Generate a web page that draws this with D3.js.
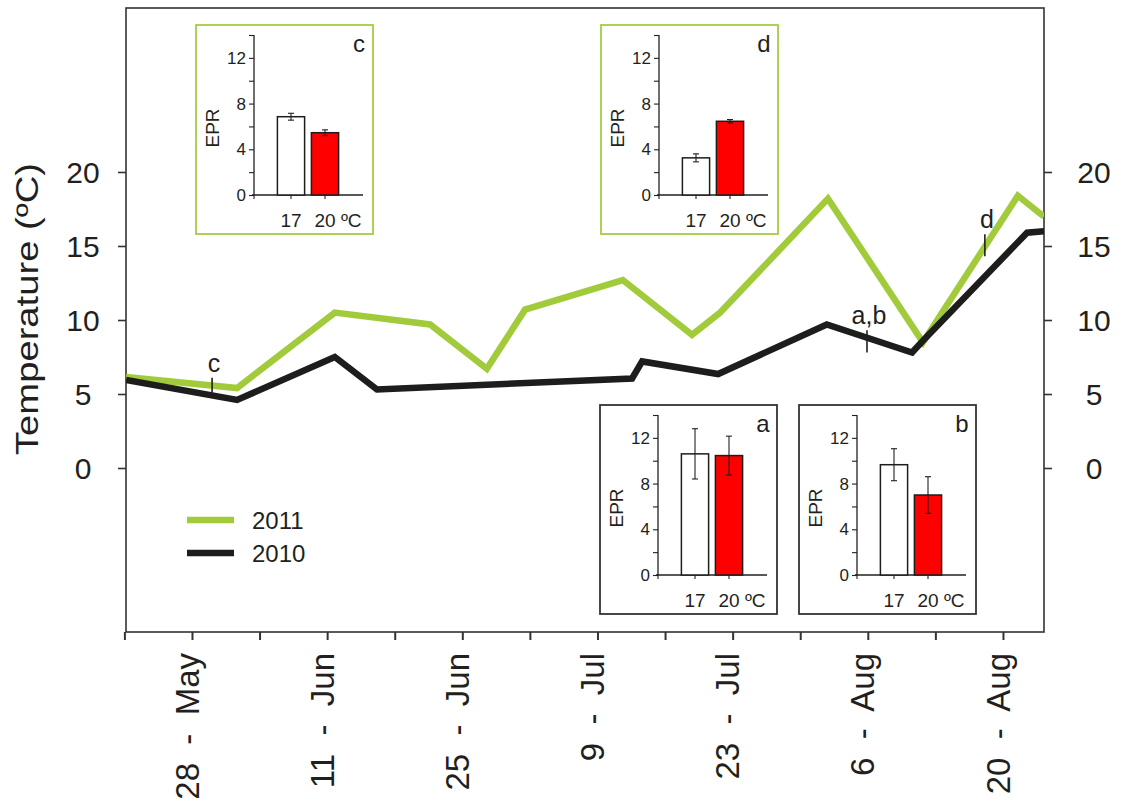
<!DOCTYPE html>
<html><head><meta charset="utf-8">
<script src="https://cdn.jsdelivr.net/npm/d3@7"></script>
<style>
body{margin:0;background:#fff}
text{font-family:"Liberation Sans",Arial,Helvetica,sans-serif;fill:#231f20}
</style>
</head><body>
<svg id="chart" width="1126" height="799"></svg>
<script>
// ---------- data ----------
const dates2011 = ["2011-05-21 04","2011-06-01 16","2011-06-11 19","2011-06-21 16","2011-06-27 13","2011-07-01 12","2011-07-11 15","2011-07-18 19","2011-07-21 17","2011-08-01 21","2011-08-11 17","2011-08-21 13","2011-08-23 20","2011-08-24 06"];
const temp2011  = [6.15, 5.4, 10.5, 9.7, 6.7, 10.7, 12.7, 9.0, 10.5, 18.2, 8.5, 18.4, 17.2, 17.0];
const dates2010 = ["2011-05-21 04","2011-06-01 16","2011-06-11 19","2011-06-16 04","2011-07-12 14","2011-07-13 15","2011-07-21 12","2011-08-01 18","2011-08-10 14","2011-08-11 17","2011-08-22 12","2011-08-24 06"];
const temp2010  = [5.95, 4.6, 7.5, 5.3, 6.05, 7.2, 6.35, 9.7, 7.8, 8.6, 15.9, 16.0];
const seriesNames = ["2011","2010"];
const seriesColors = ["#a1cb3a","#1d1d1b"];

const xTickDates  = ["2011-05-21 00","2011-05-28 00","2011-06-04 00","2011-06-11 00","2011-06-18 00","2011-06-25 00","2011-07-02 00","2011-07-09 00","2011-07-16 00","2011-07-23 00","2011-07-30 00","2011-08-06 00","2011-08-13 00","2011-08-20 00"];
const xTickLabels = ["","28  -  May","","11  -  Jun","","25  -  Jun","","9  -  Jul","","23  -  Jul","","6  -  Aug","","20  -  Aug"];
const yTicks = [0,5,10,15,20];

// sampling-date markers
const sampleLabels = ["c","a,b","d"];
const sampleDates  = ["2011-05-30 02","2011-08-05 22","2011-08-18 03"];
const sampleLow    = [5.0, 7.8, 14.3];
const sampleHigh   = [6.1, 9.3, 15.8];

// inset bar charts (EPR)
const insetNames   = ["c","d","a","b"];
const insetGroups  = ["17","20"];
const insetGroupLabels = ["17","20 ºC"];
const epr17     = [6.85, 3.25, 10.6, 9.65];
const epr17Err  = [0.3, 0.35, 2.2, 1.4];
const epr20     = [5.45, 6.45, 10.45, 7.0];
const epr20Err  = [0.25, 0.15, 1.7, 1.6];
const insetTicks = [0,2,4,6,8,10,12,14];
const insetLabelTicks = [0,4,8,12];

// ---------- layout ----------
const parse = d3.timeParse("%Y-%m-%d %H");
const svg = d3.select("#chart");
const L = 126, R = 1044, T = 8, B = 632;

const x = d3.scaleTime()
  .domain([parse("2011-05-21 04"), parse("2011-08-24 06")])
  .range([L, R]);
const y = d3.scaleLinear().domain([-11.08, 31.08]).range([B, T]);

// frame
svg.append("rect").attr("x",L).attr("y",T).attr("width",R-L).attr("height",B-T)
  .attr("fill","none").attr("stroke","#333").attr("stroke-width",1.6);

// left axis
const gL = svg.append("g").attr("transform",`translate(${L},0)`)
  .call(d3.axisLeft(y).tickValues(yTicks).tickSize(8).tickPadding(0).tickFormat(d3.format("d")));
gL.select(".domain").remove();
gL.selectAll(".tick line").attr("stroke","#333").attr("stroke-width",1.6);
gL.selectAll(".tick text").attr("x",-43).attr("text-anchor","middle")
  .attr("dy","0.36em").style("font-size","30px").attr("fill","#231f20");

// right axis
const gR = svg.append("g").attr("transform",`translate(${R},0)`)
  .call(d3.axisRight(y).tickValues(yTicks).tickSize(8).tickPadding(0).tickFormat(d3.format("d")));
gR.select(".domain").remove();
gR.selectAll(".tick line").attr("stroke","#333").attr("stroke-width",1.6);
gR.selectAll(".tick text").attr("x",50).attr("text-anchor","middle")
  .attr("dy","0.36em").style("font-size","30px").attr("fill","#231f20");

// bottom axis
const tickDates = xTickDates.map(parse);
const gB = svg.append("g").attr("transform",`translate(0,${B})`)
  .call(d3.axisBottom(x).tickValues(tickDates).tickSize(8).tickFormat(""));
gB.select(".domain").remove();
gB.selectAll(".tick line").attr("stroke","#333").attr("stroke-width",2);

svg.append("g").selectAll("text").data(tickDates).join("text")
  .attr("transform", d => `translate(${x(d)},653) rotate(-90)`)
  .attr("text-anchor","end").attr("dy","0.2em")
  .attr("xml:space","preserve").style("white-space","pre")
  .style("font-size","33px")
  .text((d,i) => xTickLabels[i]);

// y title
svg.append("text")
  .attr("transform","translate(27,309) rotate(-90)")
  .attr("text-anchor","middle").attr("dy","0.35em")
  .attr("textLength",292).attr("lengthAdjust","spacingAndGlyphs")
  .style("font-size","31px")
  .text("Temperature (ºC)");

// lines
const line = d3.line().x(d => x(d[0])).y(d => y(d[1])).curve(d3.curveLinear);
const s2011 = dates2011.map((d,i) => [parse(d), temp2011[i]]);
const s2010 = dates2010.map((d,i) => [parse(d), temp2010[i]]);
svg.append("defs").append("clipPath").attr("id","plotclip")
  .append("rect").attr("x",L).attr("y",T).attr("width",R-L).attr("height",B-T);
const gLines = svg.append("g").attr("clip-path","url(#plotclip)");
gLines.append("path").datum(s2011).attr("d",line).attr("fill","none")
  .attr("stroke",seriesColors[0]).attr("stroke-width",6.5).attr("stroke-linejoin","miter");
gLines.append("path").datum(s2010).attr("d",line).attr("fill","none")
  .attr("stroke",seriesColors[1]).attr("stroke-width",6.5).attr("stroke-linejoin","miter");

// sampling markers
const gS = svg.append("g");
sampleLabels.forEach((lab,i) => {
  const sx = x(parse(sampleDates[i]));
  gS.append("line").attr("x1",sx).attr("x2",sx)
    .attr("y1",y(sampleHigh[i])).attr("y2",y(sampleLow[i]))
    .attr("stroke","#231f20").attr("stroke-width",1.6);
  gS.append("text").attr("x",sx+2).attr("y",y(sampleHigh[i])-6)
    .attr("text-anchor","middle").style("font-size","25px").text(lab);
});

// legend
const gLeg = svg.append("g");
seriesNames.forEach((n,i) => {
  const ly = 520 + i*33;
  gLeg.append("line").attr("x1",187).attr("x2",234).attr("y1",ly).attr("y2",ly)
    .attr("stroke",seriesColors[i]).attr("stroke-width",6.5);
  gLeg.append("text").attr("x",252).attr("y",ly).attr("dy","0.36em")
    .style("font-size","24px").text(n);
});

// insets
const insetBoxes = {c:[196,25,"#a5cd42"], d:[601,25,"#a5cd42"], a:[600,405,"#333"], b:[799,405,"#333"]};
const iw = 177, ih = 209;
insetNames.forEach((name,k) => {
  const [bx,by,bc] = insetBoxes[name];
  const g = svg.append("g").attr("transform",`translate(${bx},${by})`);
  g.append("rect").attr("x",0).attr("y",0).attr("width",iw).attr("height",ih)
    .attr("fill","#fff").attr("stroke",bc).attr("stroke-width",1.8);
  const ax = 58;
  const iy = d3.scaleLinear().domain([0,14]).range([170,10]);
  const ixb = d3.scaleBand().domain(insetGroups).range([ax+20, ax+88]).paddingInner(0.2).paddingOuter(0.1);
  const ga = g.append("g").attr("transform",`translate(${ax},0)`)
    .call(d3.axisLeft(iy).tickValues(insetTicks).tickSize(5).tickFormat(d => insetLabelTicks.includes(d) ? d : ""));
  ga.select(".domain").attr("stroke","#231f20").attr("stroke-width",1.3).attr("d",`M0,${iy(14)}V${iy(0)}`);
  ga.selectAll(".tick line").attr("stroke","#231f20").attr("stroke-width",1.1);
  ga.selectAll(".tick text").attr("x",-8).style("font-size","17px").attr("fill","#231f20");
  g.append("line").attr("x1",ax-2).attr("x2",ax+109).attr("y1",iy(0)).attr("y2",iy(0))
    .attr("stroke","#231f20").attr("stroke-width",1.3);
  g.append("line").attr("x1",ax).attr("x2",ax).attr("y1",iy(0)).attr("y2",iy(0)+4)
    .attr("stroke","#231f20").attr("stroke-width",1.1);
  const vals = [epr17[k], epr20[k]], errs = [epr17Err[k], epr20Err[k]];
  insetGroups.forEach((gname,j) => {
    const cx = ixb(gname) + ixb.bandwidth()/2;
    g.append("line").attr("x1",cx).attr("x2",cx).attr("y1",iy(0)).attr("y2",iy(0)+4)
      .attr("stroke","#231f20").attr("stroke-width",1.1);
    g.append("rect").attr("x",ixb(gname)).attr("y",iy(vals[j]))
      .attr("width",ixb.bandwidth()).attr("height",iy(0)-iy(vals[j]))
      .attr("fill", j===0 ? "#ffffff" : "#ff0000").attr("stroke","#1d1d1b").attr("stroke-width",1.5);
    const e1 = iy(vals[j]+errs[j]), e2 = iy(vals[j]-errs[j]);
    g.append("line").attr("x1",cx).attr("x2",cx).attr("y1",e1).attr("y2",e2)
      .attr("stroke","#231f20").attr("stroke-width",1.1);
    [e1,e2].forEach(ey => g.append("line").attr("x1",cx-3).attr("x2",cx+3).attr("y1",ey).attr("y2",ey)
      .attr("stroke","#231f20").attr("stroke-width",1.1));
    const t = g.append("text").attr("y",iy(0)+32).style("font-size","19px");
    if (j===0) t.attr("x",cx).attr("text-anchor","middle").text(insetGroupLabels[j]);
    else t.attr("x",cx-10.5).attr("text-anchor","start").text(insetGroupLabels[j]);
  });
  g.append("text").attr("transform",`translate(16,103) rotate(-90)`).attr("text-anchor","middle")
    .attr("dy","0.35em").style("font-size","19px").text("EPR");
  g.append("text").attr("x",163).attr("y",27).attr("text-anchor","middle")
    .style("font-size","24px").text(name);
});
</script>
</body></html>
